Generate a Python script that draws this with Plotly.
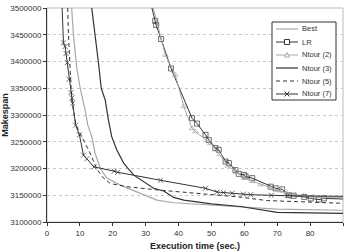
import plotly.graph_objects as go

# ---- data ----
best_x = [7.5, 8.0, 9.0, 10.1, 11.6, 12.4, 13.6, 14.6, 16.2, 18.2, 22.3, 28.4, 33.4, 38.5, 58.8, 70.0, 90.0]
best_y = [3500000, 3453000, 3390000, 3350000, 3309000, 3281000, 3260000, 3229000, 3200000, 3182000, 3169000, 3153000, 3141000, 3136000, 3129000, 3124000, 3122000]

lr_x = [31.9, 32.9, 33.2, 34.7, 37.7, 44.1, 45.6, 48.2, 49.2, 51.2, 52.2, 54.3, 55.3, 57.3, 58.3, 59.9, 60.4, 62.4,
        68.0, 69.5, 71.5, 73.6, 75.0, 78.2, 80.2, 82.7, 84.2, 90.0]
lr_y = [3500000, 3476000, 3468000, 3442000, 3387000, 3294000, 3284000, 3263000, 3253000, 3238000, 3235000, 3213000,
        3210000, 3197000, 3190000, 3188000, 3185000, 3182000, 3166000, 3163000, 3161000, 3150000, 3149000, 3147000,
        3144000, 3142000, 3144000, 3143000]
lr_marked = [0] + [1] * 26 + [0]

n2_x = [32.3, 36.0, 39.0, 41.6, 44.1, 45.1, 49.7, 52.5, 55.0, 57.5, 60.0, 62.5, 65.0, 68.0, 70.5, 73.0, 75.5, 78.0, 81.0, 84.0, 90.0]
n2_y = [3500000, 3412000, 3375000, 3316000, 3275000, 3269000, 3247000, 3226000, 3205000, 3193000, 3182000, 3176000,
        3170000, 3164000, 3159000, 3154000, 3151000, 3149000, 3147000, 3146000, 3146000]
n2_marked = [0] + [1] * 19 + [0]

n3_x = [13.6, 14.6, 15.6, 16.5, 17.7, 18.7, 19.7, 21.2, 23.3, 26.3, 32.4, 35.5, 38.5, 41.6, 50.0, 58.8, 62.0, 67.0, 70.0, 90.0]
n3_y = [3500000, 3453000, 3400000, 3350000, 3328000, 3290000, 3259000, 3235000, 3210000, 3188000, 3163000, 3158000,
        3146000, 3141000, 3134000, 3129000, 3126000, 3121000, 3118000, 3116000]

n5_x = [6.3, 6.5, 7.0, 7.5, 8.8, 10.6, 13.1, 15.1, 16.7, 19.2, 24.3, 33.4, 43.6, 58.0, 67.0, 90.0]
n5_y = [3500000, 3453000, 3390000, 3328000, 3281000, 3259000, 3229000, 3200000, 3185000, 3172000, 3166000, 3160000,
        3155000, 3147000, 3140000, 3135000]

n7_x = [4.6, 5.0, 5.5, 5.8, 6.2, 6.7, 7.3, 7.6, 7.8, 8.7, 9.85, 11.1, 12.1, 14.3, 20.4, 21.5, 34.5, 48.2, 51.7, 53.7,
        56.3, 59.7, 61.9, 68.2, 73.1, 90.0]
n7_y = [3500000, 3435000, 3428000, 3415000, 3398000, 3367000, 3342000, 3332000, 3322000, 3281000, 3263000, 3225000,
        3218000, 3203000, 3195000, 3193000, 3178000, 3163000, 3156000, 3155000, 3154000, 3152000, 3151000, 3150000,
        3149000, 3148000]
n7_marked = [0] + [1] * 24 + [0]

x_ticks = [0, 10, 20, 30, 40, 50, 60, 70, 80, 90]
y_ticks = [3100000, 3150000, 3200000, 3250000, 3300000, 3350000, 3400000, 3450000, 3500000]

series_names = ["Best", "LR", "Ntour (2)", "Ntour (3)", "Ntour (5)", "Ntour (7)"]

DARK = "#333333"
LIGHT = "#a8a8a8"

styles = {
    "Best": dict(color=LIGHT, width=1.2, dash="solid", marker=None),
    "LR": dict(color=DARK, width=1, dash="solid", marker="square"),
    "Ntour (2)": dict(color=LIGHT, width=1, dash="solid", marker="triangle"),
    "Ntour (3)": dict(color=DARK, width=1.2, dash="solid", marker=None),
    "Ntour (5)": dict(color=DARK, width=1, dash="4px,3px", marker=None),
    "Ntour (7)": dict(color=DARK, width=1, dash="solid", marker="x"),
}

fig = go.Figure()
fig.add_trace(go.Scatter(x=best_x, y=best_y, name="Best", mode="lines",
                         line=dict(color=LIGHT, width=1.2)))
fig.add_trace(go.Scatter(x=lr_x, y=lr_y, name="LR", mode="lines+markers",
                         line=dict(color=DARK, width=1),
                         marker=dict(symbol="square-open", size=[5 * m for m in lr_marked], color=DARK,
                                     line=dict(width=1))))
fig.add_trace(go.Scatter(x=n2_x, y=n2_y, name="Ntour (2)", mode="lines+markers",
                         line=dict(color=LIGHT, width=1),
                         marker=dict(symbol="triangle-up-open", size=[5 * m for m in n2_marked], color=LIGHT,
                                     line=dict(width=1))))
fig.add_trace(go.Scatter(x=n3_x, y=n3_y, name="Ntour (3)", mode="lines",
                         line=dict(color=DARK, width=1.2)))
fig.add_trace(go.Scatter(x=n5_x, y=n5_y, name="Ntour (5)", mode="lines",
                         line=dict(color=DARK, width=1, dash="4px,3px")))
fig.add_trace(go.Scatter(x=n7_x, y=n7_y, name="Ntour (7)", mode="lines+markers",
                         line=dict(color=DARK, width=1),
                         marker=dict(symbol="x-thin-open", size=[5 * m for m in n7_marked], color=DARK,
                                     line=dict(width=1, color=DARK))))

# ---- compact custom legend (plotly's own legend rows are too tall) ----
W_PLOT, H_PLOT = 296, 214
def px_x(p):  # pixel offset from plot left -> paper
    return p / W_PLOT
def px_y(p):  # pixel offset from plot top -> paper
    return 1 - p / H_PLOT

shapes = [dict(type="rect", xref="paper", yref="paper", x0=0, y0=0, x1=1, y1=1,
               line=dict(color="#bbbbbb", width=1), layer="below")]
annotations = []
box_l, box_r, box_t, box_b = 225, 289, 14, 92
shapes.append(dict(type="rect", xref="paper", yref="paper",
                   x0=px_x(box_l), x1=px_x(box_r), y0=px_y(box_b), y1=px_y(box_t),
                   fillcolor="white", line=dict(color="#333333", width=1), layer="above"))
for i, name in enumerate(series_names):
    st = styles[name]
    yy = px_y(21 + 13 * i)
    shapes.append(dict(type="line", xref="paper", yref="paper", x0=px_x(229), x1=px_x(251), y0=yy, y1=yy,
                       line=dict(color=st["color"], width=st["width"], dash=st["dash"]), layer="above"))
    cx = px_x(240)
    if st["marker"] == "square":
        path = "M-2.5,-2.5 L2.5,-2.5 L2.5,2.5 L-2.5,2.5 Z"
    elif st["marker"] == "triangle":
        path = "M-2.5,-2 L2.5,-2 L0,2.5 Z"
    elif st["marker"] == "x":
        path = "M-2.5,-2.5 L2.5,2.5 M-2.5,2.5 L2.5,-2.5"
    else:
        path = None
    if path:
        shapes.append(dict(type="path", xref="paper", yref="paper", xsizemode="pixel", ysizemode="pixel",
                           xanchor=cx, yanchor=yy, path=path,
                           fillcolor="white" if st["marker"] != "x" else None,
                           line=dict(color=st["color"], width=1), layer="above"))
    annotations.append(dict(xref="paper", yref="paper", x=px_x(253), y=yy, xanchor="left", yanchor="middle",
                            text=name, showarrow=False, font=dict(size=7.5, color="#333333")))

fig.update_layout(
    width=345, height=251,
    margin=dict(l=47, r=2, t=8, b=29),
    paper_bgcolor="white", plot_bgcolor="white",
    font=dict(family="Liberation Sans, Arial, sans-serif", size=8, color="#333333"),
    showlegend=False,
    shapes=shapes,
    annotations=annotations,
)
fig.update_xaxes(range=[0, 90], tickvals=x_ticks, ticks="outside", ticklen=3, tickcolor="#333333",
                 showline=True, linecolor="#333333", linewidth=1, showgrid=False, zeroline=False,
                 title=dict(text="<b>Execution time (sec.)</b>", font=dict(size=9, color="#222222"), standoff=6),
                 tickfont=dict(size=8))
fig.update_yaxes(range=[3100000, 3500000], tickvals=y_ticks, tickformat="d", ticks="outside", ticklen=3,
                 tickcolor="#333333", showline=True, linecolor="#333333", linewidth=1,
                 showgrid=True, gridcolor="#c8c8c8", griddash="dot", gridwidth=1, zeroline=False,
                 title=dict(text="<b>Makespan</b>", font=dict(size=9, color="#222222"), standoff=3),
                 tickfont=dict(size=8))

fig.write_html("out.html")
